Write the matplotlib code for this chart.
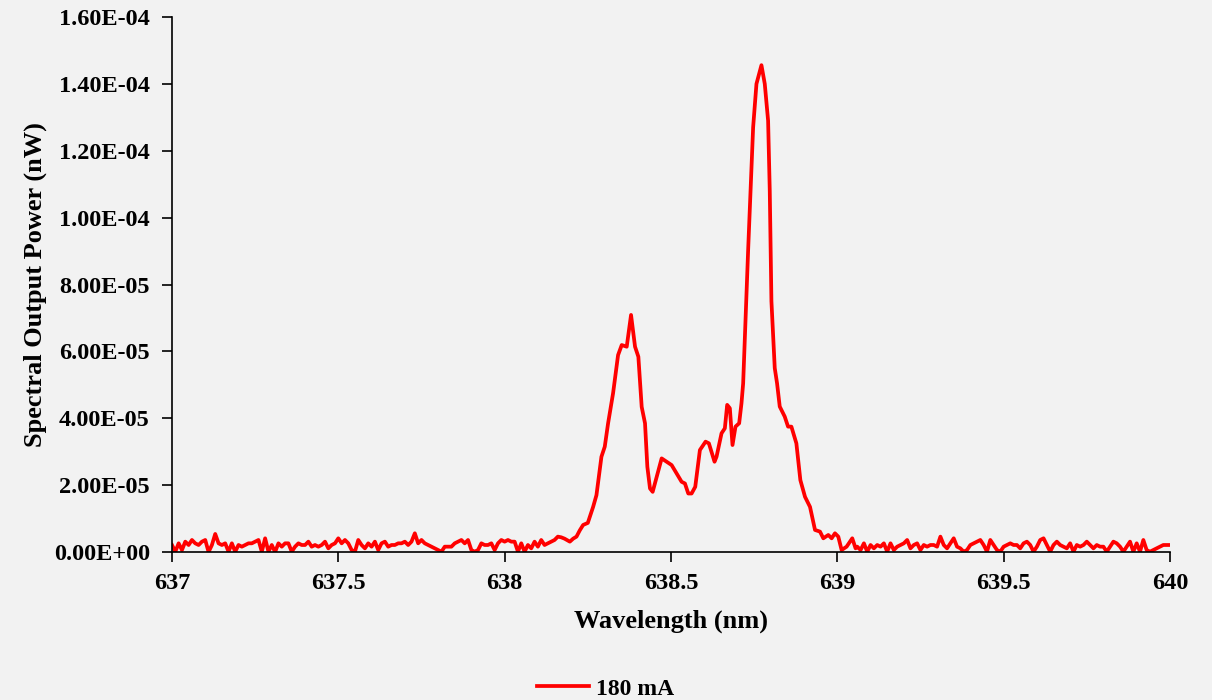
import numpy as np
import matplotlib.pyplot as plt
from matplotlib.ticker import FuncFormatter

plt.rcParams['font.family'] = ['Liberation Serif', 'DejaVu Serif']
plt.rcParams['font.weight'] = 'bold'

# spectrum, power in units of 1e-6 nW
# baseline left: 637.00 .. 638.16, step 0.01 nm
base_left = [2.1, 0.1, 2.6, 0.6, 3.1, 2.1, 3.6, 2.6, 2.1, 3.1,
             3.6, 0.0, 2.1, 5.4, 2.6, 2.1, 2.6, 0.1, 2.6, 0.1,
             2.1, 1.6, 2.1, 2.6, 2.6, 3.1, 3.6, 0.1, 4.1, 0.1,
             2.1, 0.0, 2.6, 1.6, 2.6, 2.6, 0.1, 1.6, 2.6, 2.1,
             2.1, 3.1, 1.6, 2.1, 1.6, 2.1, 3.1, 1.1, 2.1, 2.6,
             4.1, 2.6, 3.6, 2.6, 0.6, 0.1, 3.6, 2.1, 1.1, 2.6,
             1.6, 3.1, 0.6, 2.6, 3.1, 1.6, 2.1, 2.1, 2.6, 2.6,
             3.1, 2.1, 3.1, 5.6, 2.6, 3.6, 2.6, 2.1, 1.6, 1.1,
             0.6, 0.1, 1.6, 1.6, 1.6, 2.6, 3.1, 3.6, 2.6, 3.6,
             0.6, 0.1, 0.6, 2.6, 2.1, 2.1, 2.6, 0.6, 2.6, 3.6,
             3.1, 3.6, 3.1, 3.1, 0.1, 2.6, 0.1, 2.1, 1.1, 3.1,
             1.6, 3.6, 2.1, 2.6, 3.1, 3.6, 4.6]

# main emission region
peak_wl = [638.17, 638.18, 638.196, 638.206, 638.216, 638.226, 638.236, 638.25,
           638.266, 638.276, 638.291, 638.301, 638.311, 638.326, 638.341, 638.352,
           638.367, 638.38, 638.392, 638.402, 638.412, 638.422, 638.429, 638.437,
           638.445, 638.457, 638.472, 638.487, 638.502, 638.517, 638.532, 638.542,
           638.552, 638.562, 638.573, 638.587, 638.604, 638.614, 638.631, 638.637,
           638.652, 638.662, 638.669, 638.677, 638.685, 638.694, 638.705, 638.712,
           638.717, 638.732, 638.742, 638.747, 638.757, 638.772, 638.782, 638.792,
           638.797, 638.802, 638.812, 638.819, 638.827, 638.842, 638.852, 638.862,
           638.877, 638.889, 638.903, 638.918, 638.933, 638.948, 638.958, 638.973,
           638.983, 638.993, 639.003, 639.013, 639.028, 639.045, 639.055]
peak_pw = [4.4, 4.0, 3.1, 4.0, 4.6, 6.5, 8.1, 8.7,
           13.5, 17.0, 28.5, 31.5, 38.5, 47.5, 58.9, 61.9,
           61.4, 70.9, 61.4, 58.4, 43.4, 38.5, 25.5, 19.0,
           18.0, 22.5, 28.0, 27.0, 26.0, 23.5, 21.0, 20.5,
           17.5, 17.5, 19.5, 30.5, 33.0, 32.5, 27.0, 28.5,
           35.5, 37.0, 44.0, 43.0, 32.0, 37.5, 38.5, 44.5,
           50.4, 90.3, 115.0, 127.0, 140.0, 145.6, 140.0, 129.0,
           108.0, 75.0, 55.0, 50.4, 43.5, 40.5, 37.5, 37.5,
           32.5, 21.5, 16.5, 13.5, 6.6, 6.1, 4.1, 5.1,
           4.1, 5.6, 4.6, 0.6, 1.6, 4.1, 1.1]

# baseline right: 639.06 .. 640.00, step 0.01 nm
base_right = [1.6, 0.6, 2.6, 0.1, 2.1, 1.1, 2.1, 1.6, 2.6, 0.1,
              2.6, 0.6, 1.6, 2.1, 2.6, 3.6, 1.1, 2.1, 2.6, 0.6,
              2.1, 1.6, 2.1, 2.1, 1.6, 4.6, 2.1, 1.1, 2.6, 4.1,
              1.6, 1.1, 0.1, 0.6, 2.1, 2.6, 3.1, 3.6, 2.1, 0.1,
              3.6, 2.1, 0.6, 0.1, 1.6, 2.1, 2.6, 2.1, 2.1, 1.1,
              2.6, 3.1, 2.1, 0.1, 1.6, 3.6, 4.1, 2.1, 0.1, 2.1,
              3.1, 2.1, 1.6, 1.1, 2.6, 0.1, 2.1, 1.6, 2.1, 3.1,
              2.1, 1.1, 2.1, 1.6, 1.6, 0.1, 1.6, 3.1, 2.6, 1.6,
              0.1, 1.6, 3.1, 0.1, 2.6, 0.1, 3.6, 0.6, 0.1, 0.6,
              1.1, 1.6, 2.1, 2.1, 2.1]

wl = np.concatenate([637.00 + 0.01 * np.arange(len(base_left)),
                     peak_wl,
                     639.06 + 0.01 * np.arange(len(base_right))])
pw = np.concatenate([base_left, peak_pw, base_right]) * 1e-6

fig = plt.figure(figsize=(12.12, 7.0), dpi=100, facecolor='#f2f2f2')
ax = fig.add_axes([0.1419, 0.2114, 0.8234, 0.7643])
ax.set_facecolor('#f2f2f2')

ax.plot(wl, pw, color='#ff0000', lw=2.7, label='180 mA')

ax.set_xlim(637, 640)
ax.set_ylim(0, 1.6e-4)
ax.set_xticks([637, 637.5, 638, 638.5, 639, 639.5, 640])
ax.set_yticks(np.arange(0, 1.61e-4, 2e-5))
ax.xaxis.set_major_formatter(FuncFormatter(lambda v, p: '%g' % v))
ax.yaxis.set_major_formatter(FuncFormatter(lambda v, p: '%.2E' % v))
ax.tick_params(direction='out', length=7, width=1.2, labelsize=17.5)
ax.tick_params(axis='y', pad=9)
ax.tick_params(axis='x', pad=8)

for s in ['top', 'right']:
    ax.spines[s].set_visible(False)
for s in ['left', 'bottom']:
    ax.spines[s].set_linewidth(1.2)

ax.set_xlabel('Wavelength (nm)', fontsize=19, fontweight='bold', labelpad=11)
ax.set_ylabel('Spectral Output Power (nW)', fontsize=19, fontweight='bold', labelpad=5)

fig.legend(loc='lower center', bbox_to_anchor=(0.5, -0.03), frameon=False,
           handlelength=2.2, handletextpad=0.3,
           prop={'weight': 'bold', 'size': 17})

plt.savefig('out.png', dpi=100, facecolor=fig.get_facecolor())
